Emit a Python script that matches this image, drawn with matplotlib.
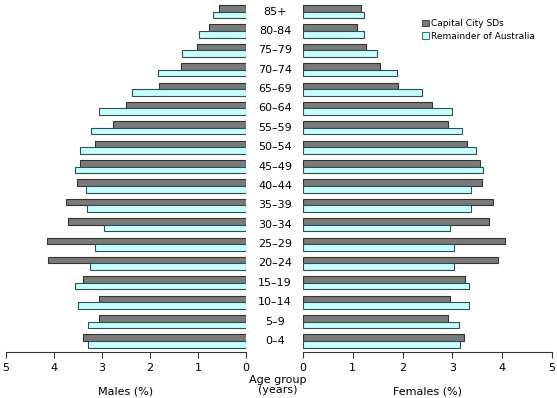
import matplotlib
matplotlib.use("Agg")
import matplotlib.pyplot as plt
import matplotlib.transforms as mtransforms
from matplotlib.patches import Patch
import numpy as np

plt.rcParams.update({
    "font.family": "DejaVu Sans",
    "font.size": 8,
})

AGE_GROUPS = ["0–4", "5–9", "10–14", "15–19", "20–24", "25–29", "30–34",
              "35–39", "40–44", "45–49", "50–54", "55–59", "60–64", "65–69",
              "70–74", "75–79", "80-84", "85+"]

# per cent of population, youngest first
MALES_CAPITAL = [3.39, 3.06, 3.07, 3.39, 4.12, 4.14, 3.70, 3.75, 3.52, 3.46,
                 3.14, 2.77, 2.50, 1.81, 1.36, 1.03, 0.78, 0.57]
MALES_REMAINDER = [3.30, 3.30, 3.50, 3.56, 3.26, 3.14, 2.96, 3.32, 3.33, 3.56,
                   3.46, 3.23, 3.06, 2.38, 1.84, 1.34, 0.98, 0.68]
FEMALES_CAPITAL = [3.24, 2.92, 2.95, 3.26, 3.92, 4.06, 3.73, 3.82, 3.59, 3.55,
                   3.29, 2.92, 2.60, 1.91, 1.54, 1.26, 1.08, 1.16]
FEMALES_REMAINDER = [3.15, 3.13, 3.33, 3.34, 3.03, 3.03, 2.96, 3.37, 3.38, 3.61,
                     3.47, 3.19, 3.00, 2.38, 1.89, 1.49, 1.23, 1.22]

SERIES = ["Capital City SDs", "Remainder of Australia"]
DARK = "#7a7a7a"
LIGHT = "#c8ffff"
EDGE = "#333333"
EDGE_LIGHT = "#2f4f4f"

W, H = 557, 398
fig = plt.figure(figsize=(W / 100, H / 100), dpi=100)

bottom = (H - 352) / H
height = 352 / H
axL = fig.add_axes([6 / W, bottom, 240 / W, height])
axR = fig.add_axes([303 / W, bottom, 249 / W, height])

y = np.arange(len(AGE_GROUPS))
bh = 0.34


def draw(ax, cap, rem):
    ax.barh(y + bh / 2, cap, height=bh, color=DARK, edgecolor=EDGE,
            linewidth=0.8, label=SERIES[0])
    ax.barh(y - bh / 2, rem, height=bh, color=LIGHT, edgecolor=EDGE_LIGHT,
            linewidth=0.8, label=SERIES[1])
    ax.set_ylim(-0.57, len(AGE_GROUPS) - 0.4)
    ax.set_yticks([])
    for s in ("top", "right", "left"):
        ax.spines[s].set_visible(False)
    ax.spines["bottom"].set_color("#333333")
    ax.spines["bottom"].set_linewidth(0.8)
    ax.set_xticks(range(6))
    ax.tick_params(axis="x", direction="out", length=4, width=0.8,
                   color="#333333", pad=4, labelsize=8)


draw(axL, MALES_CAPITAL, MALES_REMAINDER)
axL.set_xlim(5, 0)
draw(axR, FEMALES_CAPITAL, FEMALES_REMAINDER)
axR.set_xlim(0, 5)

axL.set_xlabel("Males (%)", fontsize=8, labelpad=10)
axR.set_xlabel("Females (%)", fontsize=8, labelpad=10)

trans = mtransforms.blended_transform_factory(fig.transFigure, axL.transData)
for yi, lab in zip(y, AGE_GROUPS):
    fig.text(275 / W, yi, lab, transform=trans, ha="center", va="center",
             fontsize=8)
fig.text(278 / W, 1 - 385 / H, "Age group\n(years)", ha="center",
         va="center", fontsize=8, linespacing=1.05)

handles = [Patch(facecolor=DARK, edgecolor=EDGE, linewidth=0.6),
           Patch(facecolor=LIGHT, edgecolor=EDGE_LIGHT, linewidth=0.6)]
axR.legend(handles, SERIES, loc="upper left", bbox_to_anchor=(0.465, 0.955),
           frameon=False, fontsize=6.5, handlelength=0.7, handleheight=0.7,
           handletextpad=0.2, labelspacing=0.35, borderaxespad=0)

fig.savefig("out.png", dpi=100)
